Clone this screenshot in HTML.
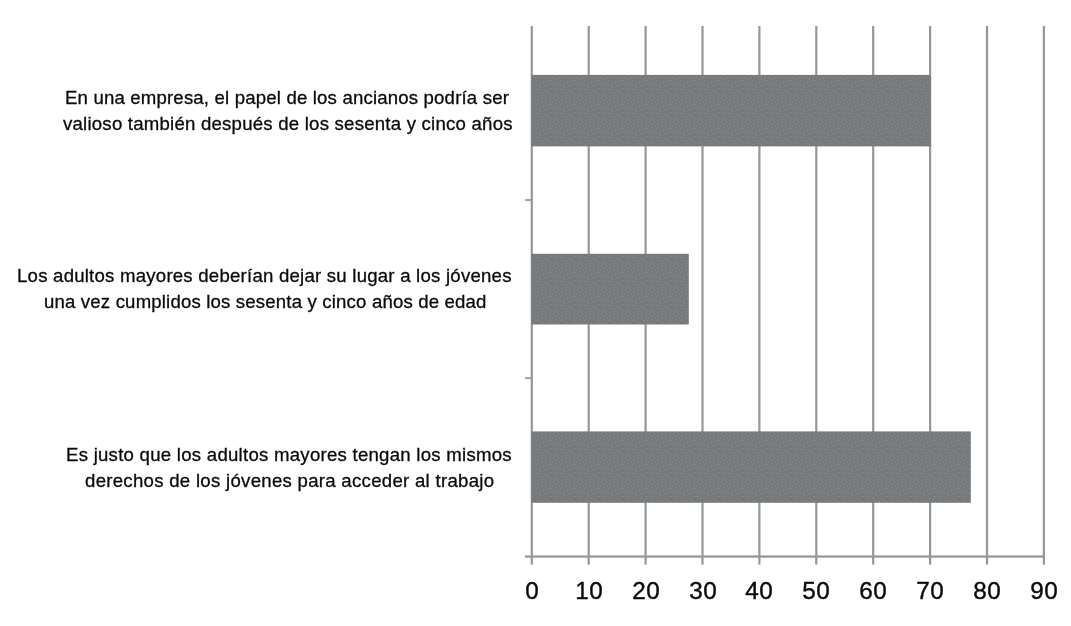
<!DOCTYPE html>
<html>
<head>
<meta charset="utf-8">
<title>Chart</title>
<style>
  html, body { margin: 0; padding: 0; background: #ffffff; }
  body { width: 1071px; height: 626px; position: relative; overflow: hidden;
         font-family: "Liberation Sans", sans-serif; color: #111; }
  svg { position: absolute; left: 0; top: 0; }
  .ln { position: absolute; white-space: nowrap; font-size: 18.6px; line-height: 24px; color: #0a0a0a; transform: translateY(0.5px); will-change: transform; -webkit-text-stroke: 0.3px #0a0a0a; }
  .num { position: absolute; top: 576.2px; width: 60px; margin-left: -30px; text-align: center;
         font-size: 24.3px; line-height: 30px; color: #0a0a0a; letter-spacing: 0.6px; text-indent: 0.6px; transform: translateY(0.3px); will-change: transform; -webkit-text-stroke: 0.4px #0a0a0a; }
</style>
</head>
<body>
<svg width="1071" height="626" viewBox="0 0 1071 626">
  <defs>
    <pattern id="spk" x="0" y="0" width="24" height="24" patternUnits="userSpaceOnUse">
      <rect width="24" height="24" fill="#777a7c"/>
      <g fill="#8b9092"><rect x="10" y="4" width="1" height="1"/><rect x="12" y="20" width="1" height="1"/><rect x="1" y="2" width="1" height="1"/><rect x="17" y="3" width="1" height="1"/><rect x="1" y="16" width="1" height="1"/><rect x="6" y="1" width="1" height="1"/><rect x="2" y="13" width="1" height="1"/><rect x="13" y="2" width="1" height="1"/><rect x="17" y="13" width="1" height="1"/><rect x="3" y="7" width="1" height="1"/><rect x="20" y="20" width="1" height="1"/><rect x="9" y="13" width="1" height="1"/><rect x="4" y="17" width="1" height="1"/><rect x="9" y="17" width="1" height="1"/><rect x="21" y="5" width="1" height="1"/><rect x="6" y="11" width="1" height="1"/><rect x="22" y="2" width="1" height="1"/><rect x="15" y="21" width="1" height="1"/><rect x="11" y="9" width="1" height="1"/><rect x="7" y="5" width="1" height="1"/><rect x="15" y="10" width="1" height="1"/><rect x="17" y="18" width="1" height="1"/><rect x="22" y="11" width="1" height="1"/><rect x="23" y="22" width="1" height="1"/><rect x="9" y="20" width="1" height="1"/><rect x="12" y="15" width="1" height="1"/><rect x="9" y="0" width="1" height="1"/><rect x="22" y="16" width="1" height="1"/><rect x="12" y="12" width="1" height="1"/><rect x="14" y="5" width="1" height="1"/><rect x="3" y="10" width="1" height="1"/><rect x="20" y="8" width="1" height="1"/><rect x="23" y="8" width="1" height="1"/><rect x="4" y="22" width="1" height="1"/><rect x="17" y="0" width="1" height="1"/><rect x="12" y="23" width="1" height="1"/><rect x="17" y="6" width="1" height="1"/><rect x="8" y="8" width="1" height="1"/><rect x="0" y="5" width="1" height="1"/><rect x="4" y="4" width="1" height="1"/></g>
    </pattern>
  </defs>
  <!-- gridlines with tick extensions -->
  <g fill="#979798">
    <rect x="530.70" y="26" width="2.2" height="538.6"/>
    <rect x="587.60" y="26" width="2.2" height="538.6"/>
    <rect x="644.50" y="26" width="2.2" height="538.6"/>
    <rect x="701.40" y="26" width="2.2" height="538.6"/>
    <rect x="758.30" y="26" width="2.2" height="538.6"/>
    <rect x="815.20" y="26" width="2.2" height="538.6"/>
    <rect x="872.10" y="26" width="2.2" height="538.6"/>
    <rect x="929.00" y="26" width="2.2" height="538.6"/>
    <rect x="985.90" y="26" width="2.2" height="538.6"/>
    <rect x="1042.80" y="26" width="2.2" height="538.6"/>
    <!-- x axis -->
    <rect x="525" y="555.4" width="520" height="2.3"/>
    <!-- y ticks -->
    <rect x="525" y="199.2" width="6" height="1.7"/>
    <rect x="525" y="377.3" width="6" height="1.7"/>
  </g>
  <!-- bars -->
  <g fill="url(#spk)">
    <rect x="531.2" y="74.9" width="399.7" height="71.5"/>
    <rect x="531.2" y="253.8" width="157.6" height="70.7"/>
    <rect x="531.2" y="431.4" width="439.6" height="71.4"/>
  </g>
</svg>

<div class="ln" style="left:64.85px;top:84.70px;letter-spacing:0.174px">En una empresa, el papel de los ancianos podría ser</div>
<div class="ln" style="left:63.11px;top:110.60px;letter-spacing:0.225px">valioso también después de los sesenta y cinco años</div>
<div class="ln" style="left:17.35px;top:262.80px;letter-spacing:0.228px">Los adultos mayores deberían dejar su lugar a los jóvenes</div>
<div class="ln" style="left:43.53px;top:289.20px;letter-spacing:0.170px">una vez cumplidos los sesenta y cinco años de edad</div>
<div class="ln" style="left:66.29px;top:441.80px;letter-spacing:0.257px">Es justo que los adultos mayores tengan los mismos</div>
<div class="ln" style="left:84.79px;top:467.80px;letter-spacing:0.286px">derechos de los jóvenes para acceder al trabajo</div>

<div class="num" style="left:531.8px">0</div>
<div class="num" style="left:588.7px">10</div>
<div class="num" style="left:645.6px">20</div>
<div class="num" style="left:702.5px">30</div>
<div class="num" style="left:759.4px">40</div>
<div class="num" style="left:816.3px">50</div>
<div class="num" style="left:873.2px">60</div>
<div class="num" style="left:930.1px">70</div>
<div class="num" style="left:987.0px">80</div>
<div class="num" style="left:1043.9px">90</div>

</body>
</html>
